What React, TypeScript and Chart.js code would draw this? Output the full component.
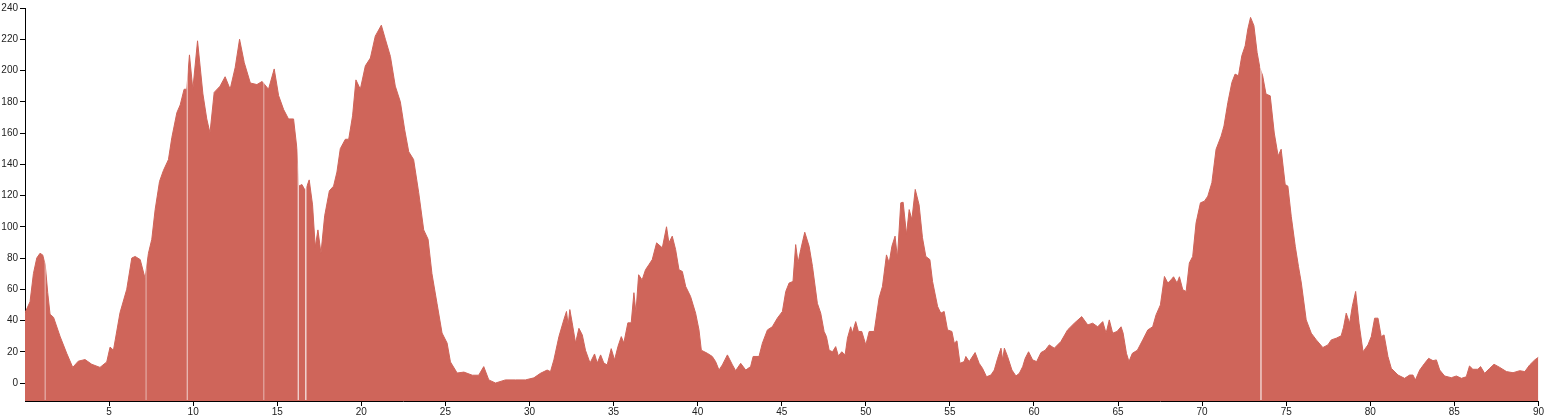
import React, { useEffect, useRef } from "react";
import { Chart, registerables } from "chart.js";

Chart.register(...registerables);

const distances: number[] = [
  0, 0.3, 0.5, 0.7, 0.89, 1.05, 1.2, 1.35, 1.49, 1.7, 2.08, 2.48, 2.84, 3.17, 3.57, 3.97, 4.46, 4.86, 5.06, 5.26, 5.65, 6.05,
  6.35, 6.55, 6.85, 7.14, 7.34, 7.54, 7.74, 8.0, 8.23, 8.53, 8.73, 9.03, 9.23, 9.46, 9.62, 9.78, 9.98, 10.26, 10.58, 10.81,
  11.0, 11.25, 11.6, 11.9, 12.2, 12.5, 12.76, 13.04, 13.4, 13.79, 14.1, 14.48, 14.82, 15.08, 15.38, 15.67, 15.97, 16.17, 16.27, 16.47,
  16.67, 16.9, 17.1, 17.26, 17.42, 17.6, 17.82, 18.1, 18.35, 18.55, 18.75, 19.05, 19.25, 19.48, 19.68, 19.94, 20.24, 20.54, 20.83, 21.19,
  21.43, 21.73, 22.02, 22.32, 22.58, 22.82, 23.11, 23.41, 23.71, 23.97, 24.2, 24.5, 24.8, 25.1, 25.3, 25.7, 26.1, 26.6, 26.98, 27.28,
  27.58, 27.98, 28.57, 29.17, 29.76, 30.26, 30.65, 31.05, 31.25, 31.45, 31.75, 32.04, 32.2, 32.3, 32.4, 32.54, 32.74, 32.94, 33.14, 33.33,
  33.6, 33.87, 34.03, 34.23, 34.42, 34.62, 34.86, 35.06, 35.26, 35.46, 35.61, 35.85, 36.05, 36.21, 36.33, 36.49, 36.7, 36.9, 37.1, 37.3,
  37.56, 37.9, 38.15, 38.29, 38.49, 38.69, 38.89, 39.09, 39.29, 39.58, 39.88, 40.08, 40.22, 40.58, 40.87, 41.07, 41.27, 41.47, 41.77, 42.07,
  42.26, 42.56, 42.86, 43.15, 43.3, 43.65, 43.85, 44.15, 44.44, 44.74, 45.04, 45.24, 45.44, 45.67, 45.83, 45.97, 46.13, 46.37, 46.63, 46.83,
  47.12, 47.32, 47.52, 47.66, 47.82, 48.02, 48.21, 48.37, 48.57, 48.77, 48.91, 49.1, 49.2, 49.4, 49.56, 49.76, 50.0, 50.2, 50.5, 50.79,
  50.99, 51.23, 51.39, 51.55, 51.74, 51.88, 52.08, 52.22, 52.42, 52.58, 52.74, 52.94, 53.17, 53.37, 53.57, 53.81, 53.97, 54.27, 54.46, 54.66,
  54.86, 55.12, 55.26, 55.42, 55.6, 55.85, 55.95, 56.15, 56.5, 56.74, 56.94, 57.18, 57.44, 57.64, 57.84, 58.04, 58.14, 58.24, 58.43, 58.69,
  58.93, 59.13, 59.33, 59.48, 59.68, 59.92, 60.16, 60.42, 60.67, 60.91, 61.21, 61.6, 62.0, 62.4, 62.84, 63.2, 63.49, 63.79, 64.09, 64.29,
  64.48, 64.68, 64.94, 65.18, 65.3, 65.5, 65.65, 65.85, 66.15, 66.47, 66.77, 67.06, 67.26, 67.52, 67.76, 67.96, 68.15, 68.3, 68.51, 68.65,
  68.85, 69.05, 69.24, 69.44, 69.64, 69.9, 70.14, 70.34, 70.58, 70.83, 71.13, 71.3, 71.53, 71.77, 71.96, 72.16, 72.36, 72.56, 72.72, 72.88,
  73.08, 73.27, 73.43, 73.6, 73.8, 74.05, 74.29, 74.52, 74.7, 74.94, 75.1, 75.3, 75.54, 75.73, 75.9, 76.19, 76.49, 76.79, 77.18, 77.48,
  77.68, 77.98, 78.27, 78.41, 78.57, 78.77, 78.93, 79.13, 79.33, 79.57, 79.86, 80.06, 80.26, 80.46, 80.65, 80.82, 81.05, 81.25, 81.65, 82.04,
  82.34, 82.54, 82.68, 82.94, 83.23, 83.47, 83.73, 83.93, 84.13, 84.42, 84.82, 85.12, 85.42, 85.71, 85.9, 86.1, 86.4, 86.56, 86.8, 87.1,
  87.36, 87.7, 88.1, 88.49, 88.89, 89.19, 89.48, 89.78, 90,
];

const elevations: number[] = [
  45, 52, 70, 80, 83, 82, 76, 58, 44, 42, 30, 19, 10, 14, 15, 12, 10, 13.5, 23, 21, 45, 60,
  80, 81, 79, 67, 83, 92, 111, 129, 136, 143, 157, 173, 178, 188, 188, 210, 188, 219, 185, 169,
  160, 186, 190, 196, 188, 202, 220, 205, 192, 191, 193, 188, 201, 184, 175, 169, 169, 150, 126, 127,
  123, 130, 114, 87, 98, 83, 107, 123, 126, 135, 150, 156, 156, 171, 194, 188, 203, 208, 222, 229,
  220, 209, 190, 180, 162, 148, 143, 122, 98, 92, 70, 51, 32, 25.6, 13.5, 6.4, 7, 5, 5, 10.5,
  2, 0, 2, 2, 2, 3.3, 6.2, 8.3, 7.3, 14.8, 29.7, 40.4, 45.8, 37, 47, 38.5, 25.6, 35, 30.8, 21,
  12.8, 18.6, 12.8, 18, 12.8, 11.6, 22, 14.8, 23.3, 29.7, 25.6, 38.5, 38.5, 57.8, 45, 69.3, 66, 72.5, 75.7, 79,
  89.7, 86.5, 100, 89.7, 94, 85.4, 72.5, 71.4, 61.8, 55.4, 44.7, 34, 21, 19, 17, 13.7, 8.3, 11.6, 18, 11.6,
  7.9, 12.6, 8.3, 10.5, 17, 17, 25.5, 34, 36, 41.5, 45.8, 58.6, 64, 65, 88.6, 76.8, 85.4, 96.5, 87.5, 74.6,
  51, 44.7, 33, 29.7, 21, 20, 23.3, 17.3, 20, 18, 28.7, 36, 32, 39.3, 33, 33, 24.4, 33, 33, 54.4,
  61.8, 82, 76.8, 87.5, 94, 80, 115.3, 115.7, 95, 111, 104.6, 123.9, 114, 93, 81, 79, 65, 49, 44.7, 45.8,
  34, 33, 25.5, 27, 12.6, 13.7, 17, 13.7, 19.5, 12.6, 9.4, 4, 5.1, 8.3, 15.8, 22.3, 14.8, 22.3, 17, 8.3,
  4.5, 6.2, 10.5, 15.8, 20, 14.8, 13.7, 19.5, 21, 24.4, 22.3, 26.5, 34, 38.3, 42.5, 37.2, 38.3, 36, 39.3, 31.9,
  40.4, 31.9, 33, 36, 32, 19, 13.7, 19, 21, 27.6, 34, 36, 43.6, 50, 68.2, 64, 66, 68, 64, 68,
  59.7, 58.6, 76.8, 81, 102.5, 115.3, 116.4, 119.6, 128.2, 149.6, 158, 164.5, 179.5, 192.4, 197.7, 196.6, 209.4, 215.8, 226.6, 234,
  228.7, 211.6, 202, 196.6, 184.9, 183.8, 160, 145.3, 149.6, 127, 126, 106.7, 87.5, 74.6, 64, 40.4, 31.9, 27.6, 22.7, 24.4,
  27.6, 28.7, 30.2, 35.7, 44.7, 38.3, 49, 58.6, 38.3, 20, 24.4, 29.7, 41.5, 41.5, 29.7, 30.8, 17, 9.4, 5.1, 3,
  5.1, 5.1, 1.9, 8.3, 12.6, 15.8, 14.3, 14.8, 8.3, 4.5, 3.4, 4.5, 3, 4, 10.9, 8.8, 8.8, 10.5, 6.2, 9.4,
  12, 10, 7.3, 6.6, 7.9, 7.3, 11.6, 14.8, 16.5,
];

const gapDistances: number[] = [1.2, 7.2, 9.65, 14.2, 16.25, 16.7, 73.5];
const gapAlphas: number[] = [0.5, 0.45, 0.6, 0.45, 0.8, 0.9, 0.85];

const xTicks: number[] = [5, 10, 15, 20, 25, 30, 35, 40, 45, 50, 55, 60, 65, 70, 75, 80, 85, 90];
const yTicks: number[] = [0, 20, 40, 60, 80, 100, 120, 140, 160, 180, 200, 220, 240];

const FILL = "#cf655a";

const gapPlugin = {
  id: "gapLines",
  afterDatasetsDraw(chart: any) {
    const { ctx, chartArea, scales } = chart;
    ctx.save();
    ctx.lineWidth = 1.2;
    gapDistances.forEach((d, i) => {
      const px = scales.x.getPixelForValue(d);
      ctx.strokeStyle = `rgba(255,255,255,${gapAlphas[i]})`;
      ctx.beginPath();
      ctx.moveTo(px, chartArea.top);
      ctx.lineTo(px, chartArea.bottom - 1);
      ctx.stroke();
    });
    ctx.restore();
  },
};

export default function App() {
  const ref = useRef<HTMLCanvasElement | null>(null);

  useEffect(() => {
    if (!ref.current) return;
    const data = distances.map((d, i) => ({ x: d, y: elevations[i] }));
    const font = { family: "'Liberation Sans', Arial, sans-serif", size: 10 };
    const chart = new Chart(ref.current, {
      type: "line",
      data: {
        datasets: [
          {
            data,
            fill: "start",
            backgroundColor: FILL,
            borderColor: FILL,
            borderWidth: 1,
            pointRadius: 0,
            tension: 0,
          },
        ],
      },
      plugins: [gapPlugin],
      options: {
        animation: false,
        responsive: true,
        maintainAspectRatio: false,
        layout: { padding: { top: 8, right: 5, left: 0, bottom: 0 } },
        plugins: { legend: { display: false }, tooltip: { enabled: false } },
        scales: {
          x: {
            type: "linear",
            min: 0,
            max: 90,
            afterBuildTicks: (s: any) => {
              s.ticks = xTicks.map((v) => ({ value: v }));
            },
            afterFit: (s: any) => {
              s.height = 18;
            },
            grid: { display: true, drawOnChartArea: false, drawTicks: true, tickLength: 5, color: "#000" },
            border: { display: true, color: "#000", width: 1 },
            ticks: { color: "#222", font, padding: 0, maxRotation: 0, autoSkip: false },
          },
          y: {
            type: "linear",
            min: -11.5,
            max: 240,
            afterBuildTicks: (s: any) => {
              s.ticks = yTicks.map((v) => ({ value: v }));
            },
            afterFit: (s: any) => {
              s.width = 25;
            },
            grid: { display: true, drawOnChartArea: false, drawTicks: true, tickLength: 5, color: "#000" },
            border: { display: true, color: "#000", width: 1 },
            ticks: { color: "#222", font, padding: 2, autoSkip: false },
          },
        },
      },
    });
    return () => chart.destroy();
  }, []);

  return (
    <div style={{ position: "fixed", left: 0, top: 0, width: 1544, height: 419, background: "#fff" }}>
      <canvas ref={ref} />
    </div>
  );
}
